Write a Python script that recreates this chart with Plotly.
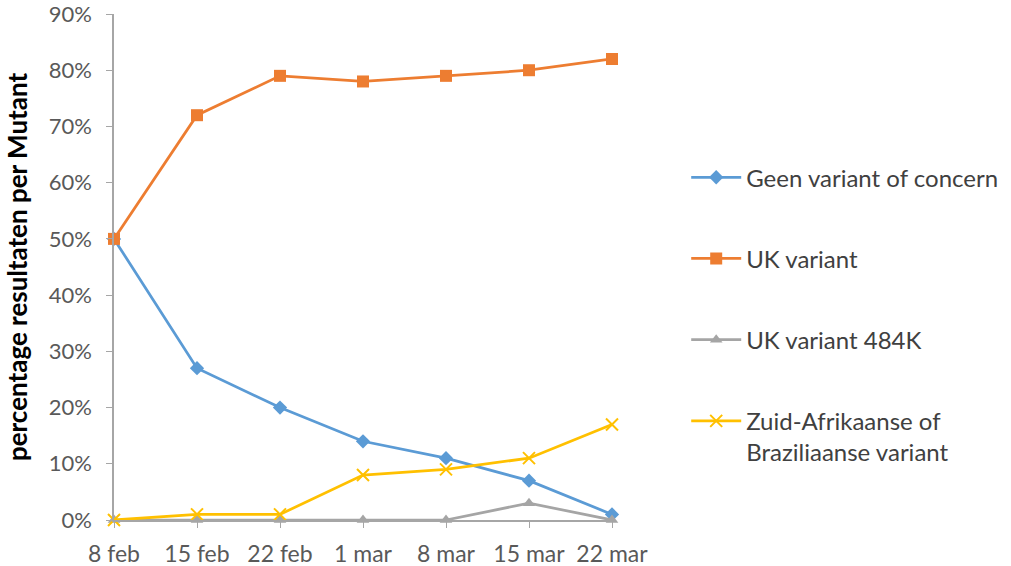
import plotly.graph_objects as go

dates = ["8 feb", "15 feb", "22 feb", "1 mar", "8 mar", "15 mar", "22 mar"]
geen = [0.50, 0.27, 0.20, 0.14, 0.11, 0.07, 0.01]
uk = [0.50, 0.72, 0.79, 0.78, 0.79, 0.80, 0.82]
uk484 = [0.0, 0.0, 0.0, 0.0, 0.0, 0.03, 0.0]
zabr = [0.0, 0.01, 0.01, 0.08, 0.09, 0.11, 0.17]

names = ["Geen variant of concern", "UK variant", "UK variant 484K",
         "Zuid-Afrikaanse of<br>Braziliaanse variant"]
colors = ["#5B9BD5", "#ED7D31", "#A5A5A5", "#FFC000"]
symbols = ["diamond", "square", "triangle-up", "x-thin"]
sizes = [11, 12, 11, 12]
series = [geen, uk, uk484, zabr]

FONT = "Lato"
fig = go.Figure()
for i, (nm, col, sym, sz, vals) in enumerate(zip(names, colors, symbols, sizes, series)):
    marker = dict(symbol=sym, size=sz, color=col)
    if sym == "x-thin":
        marker["line"] = dict(color=col, width=2)
    fig.add_trace(go.Scatter(
        x=dates, y=vals, name=nm, mode="lines+markers",
        line=dict(color=col, width=2.75), marker=marker,
        legendgroup=f"g{i}", cliponaxis=False,
    ))

fig.update_layout(
    width=1011, height=566,
    margin=dict(l=114, r=399, t=14, b=46, autoexpand=False),
    paper_bgcolor="white", plot_bgcolor="white",
    font=dict(family=FONT, size=23, color="#595959"),
    showlegend=True,
    legend=dict(
        x=1.149, y=0.721, xanchor="left", yanchor="top",
        font=dict(family=FONT, size=24, color="#404040"),
        tracegroupgap=47, valign="top", itemwidth=50,
        bgcolor="rgba(0,0,0,0)",
    ),
    xaxis=dict(
        type="category", range=[0, 6], showgrid=False, zeroline=False,
        showline=True, linecolor="#A6A6A6", linewidth=1.5, automargin=False,
        ticks="outside", ticklen=6, tickcolor="#A6A6A6",
        ticklabelstandoff=7, ticklabeloverflow="allow",
        tickfont=dict(family=FONT, size=23, color="#595959"),
    ),
    yaxis=dict(
        range=[0, 0.9], dtick=0.1, tickformat=".0%", showgrid=False,
        zeroline=False, showline=True, linecolor="#A6A6A6", linewidth=1.5,
        automargin=False, ticklabelstandoff=10, ticklabeloverflow="allow",
        ticks="outside", ticklen=6, tickcolor="#A6A6A6",
        tickfont=dict(family=FONT, size=22, color="#595959"),
        title=dict(text="<b>percentage resultaten per Mutant</b>",
                   font=dict(family=FONT, size=26, color="#000000"), standoff=14),
    ),
)

fig.write_html("out.html", config={"displayModeBar": False},
               post_script="document.body.style.margin='0px';")
